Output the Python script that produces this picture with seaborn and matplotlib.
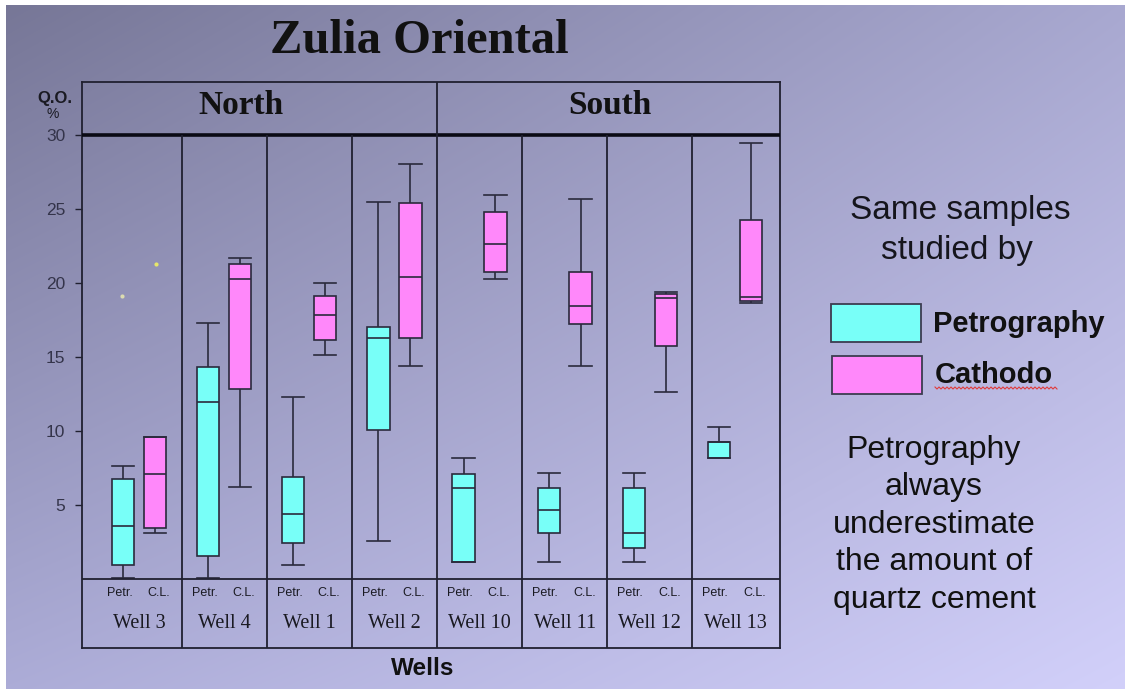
import numpy as np
import pandas as pd
import matplotlib
matplotlib.use("Agg")
import matplotlib.pyplot as plt
from matplotlib.patches import Rectangle
from matplotlib.lines import Line2D
import seaborn as sns

# ---------------- data ----------------
wells = ["Well 3", "Well 4", "Well 1", "Well 2", "Well 10", "Well 11", "Well 12", "Well 13"]
methods = ["Petr.", "C.L."]

# Petrography (cyan) box statistics
petr_min = [0.1, 0.1, 0.97, 2.6, 1.13, 1.13, 1.13, 8.18]
petr_q1 = [0.97, 1.58, 2.41, 10.09, 1.13, 3.09, 2.07, 8.18]
petr_med = [3.56, 11.98, 4.41, 16.3, 6.13, 4.68, 3.11, 9.24]
petr_q3 = [6.73, 14.3, 6.91, 17.05, 7.07, 6.13, 6.13, 9.24]
petr_max = [7.65, 17.32, 12.32, 25.5, 8.18, 7.16, 7.16, 10.27]

# Cathodoluminescence (pink) box statistics
cl_min = [3.1, 6.2, 15.16, 14.41, 20.25, 14.41, 12.66, 18.63]
cl_q1 = [3.45, 12.84, 16.13, 16.3, 20.77, 17.23, 15.77, 18.78]
cl_med = [7.09, 20.25, 17.84, 20.43, 22.66, 18.45, 18.96, 19.03]
cl_q3 = [9.57, 21.28, 19.12, 25.4, 24.82, 20.77, 19.23, 24.28]
cl_max = [9.57, 21.71, 19.98, 28.06, 25.92, 25.68, 19.41, 29.46]

# isolated points above Well 3
out_well = ["Well 3", "Well 3"]
out_method = ["Petr.", "C.L."]
out_value = [19.15, 21.3]

regions = ["North", "South"]
y_ticks = [5, 10, 15, 20, 25, 30]

# ---------------- long-form table ----------------
rows = []
for i, w in enumerate(wells):
    for v in (petr_min[i], petr_q1[i], petr_med[i], petr_q3[i], petr_max[i]):
        rows.append((w, "Petr.", v))
    for v in (cl_min[i], cl_q1[i], cl_med[i], cl_q3[i], cl_max[i]):
        rows.append((w, "C.L.", v))
df = pd.DataFrame(rows, columns=["well", "method", "value"])
df_out = pd.DataFrame({"well": out_well, "method": out_method, "value": out_value})

CYAN = "#78fff8"
PINK = "#ff88fa"
EDGE = "#2a2a3c"
SANS = "Liberation Sans"
SERIF = "Liberation Serif"

W, H = 1125, 689
fig = plt.figure(figsize=(W / 100, H / 100), dpi=100)


def px(x, y):
    return x / W, 1 - y / H


# background gradient
bg = fig.add_axes([0, 0, 1, 1], zorder=0)
yy, xx = np.mgrid[0:H, 0:W]
u = (xx / (W - 1))[..., None]
v = (yy / (H - 1))[..., None]
TL = np.array([118, 118, 150])
TR = np.array([168, 168, 208])
BL = np.array([172, 172, 215])
BR = np.array([210, 208, 250])
grad = (TL * (1 - u) * (1 - v) + TR * u * (1 - v) + BL * (1 - u) * v + BR * u * v) / 255.0
grad[:5, :, :] = 1.0
grad[:, :6, :] = 1.0
bg.imshow(grad, extent=[0, 1, 0, 1], aspect="auto", origin="upper")
bg.axis("off")

# main axes
ax = fig.add_axes([82 / W, 1 - 648 / H, 698 / W, 566 / H], zorder=2)
ax.patch.set_alpha(0)

kw = dict(data=df, x="well", y="value", hue="method", order=wells, hue_order=methods,
          palette={"Petr.": CYAN, "C.L.": PINK}, whis=(0, 100), width=0.75, gap=0.3,
          linewidth=1.2, linecolor=EDGE, saturation=1, legend=False, ax=ax, showfliers=False)
try:
    sns.boxplot(capwidths=0.2625, **kw)
except TypeError:
    sns.boxplot(**kw)

sns.stripplot(data=df_out, x="well", y="value", hue="method", order=wells, hue_order=methods,
              dodge=True, jitter=False, palette={"Petr.": "#dcdcb0", "C.L.": "#e6e66a"},
              size=3, linewidth=0, legend=False, ax=ax)

ymin, ymax = -4.66, 33.58
ax.set_ylim(ymin, ymax)
ax.set_xlim(-0.67, 7.53)
ax.set_xlabel("")
ax.set_ylabel("")
ax.set_xticks([])
ax.set_yticks(y_ticks)
ax.set_yticklabels([str(t) for t in y_ticks], fontfamily=SANS)
ax.tick_params(axis="y", direction="out", length=5, width=1, color="#202030",
               labelsize=12.5, labelcolor="#34344a", pad=7)
for s in ax.spines.values():
    s.set_color("#202030")
    s.set_linewidth(1.3)
ax.grid(False)

# frame structure
ax.axhline(30, color="#0a0a14", lw=2.6, zorder=5)
ax.axhline(0, color="#202030", lw=1.3, zorder=5)
n = len(wells)
for k in range(n - 1):
    top = ymax if k == 3 else 30
    ax.vlines(k + 0.5, ymin, top, color="#202030", lw=1.3, zorder=5)

# region headers
ax.text(1.2, 31.39, regions[0], ha="center", va="baseline", fontfamily=SERIF,
        fontweight="bold", fontsize=24, color="#111111")
ax.text(5.53, 31.39, regions[1], ha="center", va="baseline", fontfamily=SERIF,
        fontweight="bold", fontsize=24, color="#111111")

# well labels and method labels
for k, w in enumerate(wells):
    ax.text(k, -3.34, w, ha="center", va="baseline", fontfamily=SERIF, fontsize=14.5,
            color="#1a1a22")
    ax.text(k - 0.23, -1.16, methods[0], ha="center", va="baseline", fontfamily=SANS,
            fontsize=9, color="#1a1a22")
    ax.text(k + 0.23, -1.16, methods[1], ha="center", va="baseline", fontfamily=SANS,
            fontsize=9, color="#1a1a22")

# title & axis annotations
fig.text(*px(419, 52.7), "Zulia Oriental", ha="center", va="baseline", fontfamily=SERIF,
         fontweight="bold", fontsize=35, color="#111111")
fig.text(*px(55, 103), "Q.O.", ha="center", va="baseline", fontfamily=SANS,
         fontweight="bold", fontsize=12, color="#1a1a22")
fig.text(*px(53, 118), "%", ha="center", va="baseline", fontfamily=SANS,
         fontsize=10, color="#1a1a22")
fig.text(*px(423, 675), "Wells", ha="center", va="baseline", fontfamily=SANS,
         fontweight="bold", fontsize=17.5, color="#111111")

# right-side annotations
fig.text(*px(960, 219.3), "Same samples", ha="center", va="baseline", fontfamily=SANS,
         fontsize=24, color="#15151c")
fig.text(*px(957, 258.5), "studied by", ha="center", va="baseline", fontfamily=SANS,
         fontsize=24, color="#15151c")

r1 = Rectangle(px(830.7, 342), 90 / W, 38 / H, transform=fig.transFigure,
               facecolor=CYAN, edgecolor="#3c3c50", lw=1.3, zorder=3)
r2 = Rectangle(px(831.7, 394), 90 / W, 38 / H, transform=fig.transFigure,
               facecolor=PINK, edgecolor="#3c3c50", lw=1.3, zorder=3)
fig.patches.extend([r1, r2])
fig.text(*px(933, 331.7), "Petrography", ha="left", va="baseline", fontfamily=SANS,
         fontweight="bold", fontsize=21, color="#111111")
fig.text(*px(935, 383), "Cathodo", ha="left", va="baseline", fontfamily=SANS,
         fontweight="bold", fontsize=21, color="#111111")
sq_x = np.arange(935, 1058, 2.0)
sq_y = 388 + np.where(np.arange(len(sq_x)) % 2 == 0, -1.0, 1.0)
fig.add_artist(Line2D(sq_x / W, 1 - sq_y / H, transform=fig.transFigure,
                      color="#e03a3a", lw=0.8))

note = ["Petrography", "always", "underestimate", "the amount of", "quartz cement"]
for line, yb in zip(note, [458, 495.5, 533, 570.5, 608]):
    fig.text(*px(934, yb), line, ha="center", va="baseline", fontfamily=SANS,
             fontsize=23, color="#111111")

fig.savefig("out.png", dpi=100)
